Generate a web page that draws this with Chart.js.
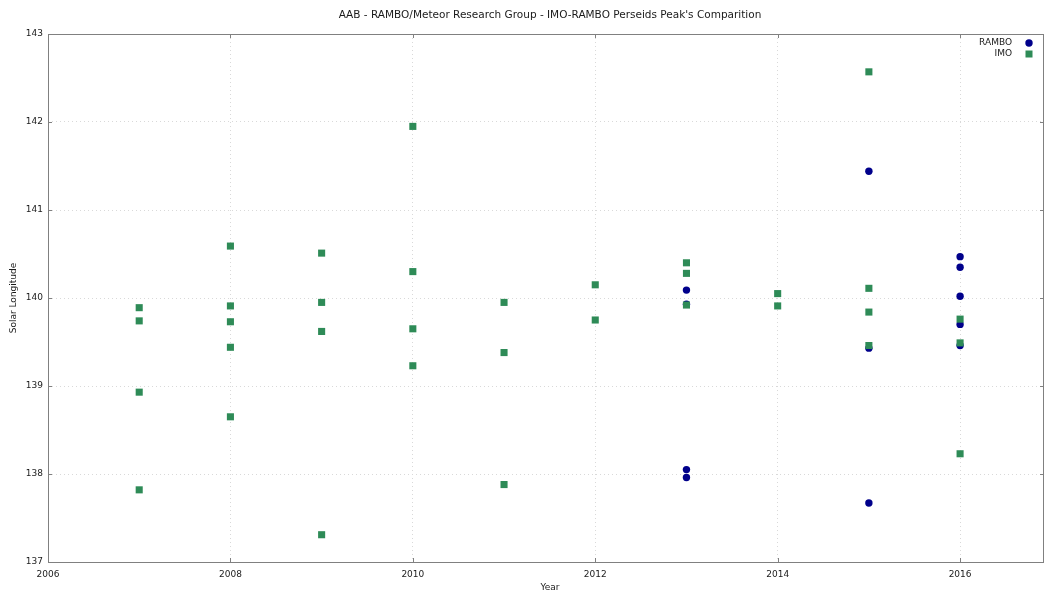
<!DOCTYPE html>
<html>
<head>
<meta charset="utf-8">
<script src="https://cdn.jsdelivr.net/npm/chart.js@4/dist/chart.umd.min.js"></script>
<style>
html,body{margin:0;padding:0;background:#fff;}
#wrap{width:1044px;height:593px;position:relative;}
</style>
</head>
<body>
<div id="wrap"><canvas id="c" width="1044" height="593"></canvas></div>
<script>
const titleText = "AAB - RAMBO/Meteor Research Group - IMO-RAMBO Perseids Peak's Comparition";
const xLabel = "Year";
const yLabel = "Solar Longitude";
const xTicks = [2006, 2008, 2010, 2012, 2014, 2016];
const yTicks = [137, 138, 139, 140, 141, 142, 143];

const ramboYears  = [2013, 2013, 2013, 2013, 2015, 2015, 2015, 2016, 2016, 2016, 2016, 2016];
const ramboValues = [140.09, 139.93, 138.05, 137.96, 141.44, 139.43, 137.67, 140.47, 140.35, 140.02, 139.70, 139.46];

const imoYears  = [2007, 2007, 2007, 2007,
                   2008, 2008, 2008, 2008, 2008,
                   2009, 2009, 2009, 2009,
                   2010, 2010, 2010, 2010,
                   2011, 2011, 2011,
                   2012, 2012,
                   2013, 2013, 2013,
                   2014, 2014,
                   2015, 2015, 2015, 2015,
                   2016, 2016, 2016];
const imoValues = [139.89, 139.74, 138.93, 137.82,
                   140.59, 139.91, 139.73, 139.44, 138.65,
                   140.51, 139.95, 139.62, 137.31,
                   141.95, 140.30, 139.65, 139.23,
                   139.95, 139.38, 137.88,
                   140.15, 139.75,
                   140.40, 140.28, 139.92,
                   140.05, 139.91,
                   142.57, 140.11, 139.84, 139.46,
                   139.76, 139.49, 138.23];

const toPts = (xs, ys) => xs.map((x, i) => ({x: x, y: ys[i]}));

const FONT = "'DejaVu Sans', sans-serif";
const TXT = '#1a1a1a';

const decor = {
  id: 'decor',
  afterDraw(chart) {
    const ctx = chart.ctx, a = chart.chartArea;
    const xs = chart.scales.x, ys = chart.scales.y;
    ctx.save();
    ctx.strokeStyle = '#808080';
    ctx.lineWidth = 1;
    ctx.strokeRect(Math.round(a.left) + 0.5, Math.round(a.top) + 0.5,
                   Math.round(a.right - a.left) - 1, Math.round(a.bottom - a.top));
    ctx.beginPath();
    xs.ticks.forEach(t => {
      const px = Math.round(xs.getPixelForValue(t.value)) + 0.5;
      ctx.moveTo(px, a.bottom); ctx.lineTo(px, a.bottom - 4);
      ctx.moveTo(px, a.top); ctx.lineTo(px, a.top + 4);
    });
    ys.ticks.forEach(t => {
      const py = Math.round(ys.getPixelForValue(t.value)) + 0.5;
      ctx.moveTo(a.left, py); ctx.lineTo(a.left + 4, py);
      ctx.moveTo(a.right, py); ctx.lineTo(a.right - 4, py);
    });
    ctx.stroke();
    ctx.fillStyle = TXT;
    ctx.font = '10.5px ' + FONT;
    ctx.textAlign = 'center';
    ctx.textBaseline = 'middle';
    ctx.fillText(titleText, 550, 15);
    ctx.font = '9px ' + FONT;
    ctx.fillText(xLabel, 550, 588);
    ctx.save();
    ctx.translate(14, 298);
    ctx.rotate(-Math.PI / 2);
    ctx.fillText(yLabel, 0, 0);
    ctx.restore();
    chart.data.datasets.forEach((ds, i) => {
      const y = 43 + i * 11;
      ctx.fillStyle = TXT;
      ctx.textAlign = 'right';
      ctx.font = '9px ' + FONT;
      ctx.fillText(ds.label, 1012, y);
      ctx.fillStyle = ds.backgroundColor;
      if (ds.pointStyle === 'circle') {
        ctx.beginPath(); ctx.arc(1029, y, 3.7, 0, Math.PI * 2); ctx.fill();
      } else {
        ctx.fillRect(1025.5, y - 3.5, 7, 7);
      }
    });
    ctx.restore();
  }
};

new Chart(document.getElementById('c'), {
  type: 'scatter',
  data: {
    datasets: [
      { label: 'RAMBO', data: toPts(ramboYears, ramboValues), pointStyle: 'circle',
        backgroundColor: '#00008b', borderWidth: 0, pointRadius: 3.7, pointHoverRadius: 3.7, order: 2 },
      { label: 'IMO', data: toPts(imoYears, imoValues), pointStyle: 'rect',
        backgroundColor: '#2e8b57', borderWidth: 0, pointRadius: 5, pointHoverRadius: 5, order: 1 }
    ]
  },
  options: {
    responsive: false,
    animation: false,
    events: [],
    layout: { autoPadding: false, padding: { top: 34, right: 0, left: 0, bottom: 0 } },
    plugins: { legend: { display: false }, title: { display: false }, tooltip: { enabled: false } },
    scales: {
      x: {
        type: 'linear', min: 2006, max: 2016.92,
        afterBuildTicks: s => { s.ticks = xTicks.map(v => ({value: v})); },
        afterFit: s => { s.height = 31; s.paddingRight = 0; s.paddingLeft = 0; },
        ticks: { color: TXT, font: { family: FONT, size: 9 }, padding: 7, maxRotation: 0, autoSkip: false,
                 callback: v => String(v) },
        grid: { color: '#d9d9d9', drawTicks: false, lineWidth: 1 },
        border: { display: false, dash: [1, 3] }
      },
      y: {
        type: 'linear', min: 137, max: 143,
        afterBuildTicks: s => { s.ticks = yTicks.map(v => ({value: v})); },
        afterFit: s => { s.width = 48; s.paddingTop = 0; s.paddingBottom = 0; },
        ticks: { color: TXT, font: { family: FONT, size: 9 }, padding: 5, callback: v => String(v) },
        grid: { color: '#d9d9d9', drawTicks: false, lineWidth: 1 },
        border: { display: false, dash: [1, 3] }
      }
    }
  },
  plugins: [decor]
});
</script>
</body>
</html>
